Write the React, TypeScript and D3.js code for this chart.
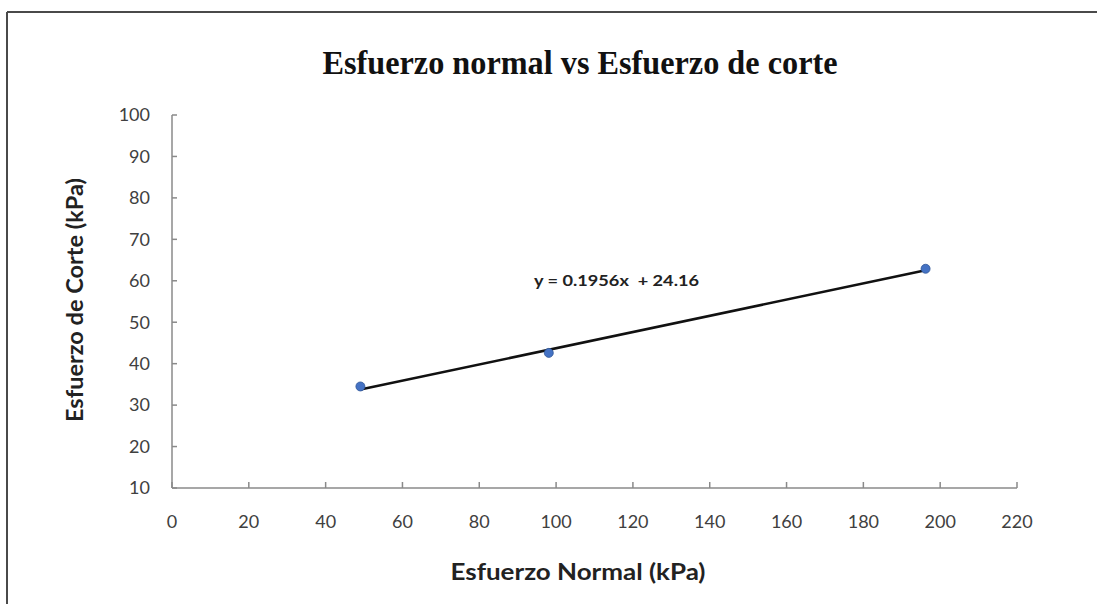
import React from "react";
import * as d3 from "d3";

const xValues = [49.05, 98.1, 196.2];
const yValues = [34.5, 42.6, 62.9];
const xTicks = [0, 20, 40, 60, 80, 100, 120, 140, 160, 180, 200, 220];
const yTicks = [10, 20, 30, 40, 50, 60, 70, 80, 90, 100];
const slope = 0.1956;
const intercept = 24.16;
const titleText = "Esfuerzo normal vs Esfuerzo de corte";
const xLabel = "Esfuerzo Normal (kPa)";
const yLabel = "Esfuerzo de Corte (kPa)";
const eqLabel = "y = 0.1956x  + 24.16";

const W = 1097;
const H = 604;
const left = 172;
const right = 1017;
const top = 115;
const bottom = 488;

export default function App() {
  const x = d3.scaleLinear().domain([0, 220]).range([left, right]);
  const y = d3.scaleLinear().domain([10, 100]).range([bottom, top]);
  const xMin = d3.min(xValues) as number;
  const xMax = d3.max(xValues) as number;
  const trend = d3.line<number>()
    .x((d) => x(d))
    .y((d) => y(slope * d + intercept))([xMin, xMax]);
  const font = "Lato, 'Open Sans', sans-serif";
  const axisColor = "#8a8a8a";
  return (
    <svg
      width={W}
      height={H}
      style={{ position: "absolute", left: 0, top: 0, background: "#fff" }}
    >
      <rect x={0} y={0} width={W} height={H} fill="#fff" />
      {/* chart border */}
      <line x1={7} y1={12} x2={W} y2={12} stroke="#4a4a4a" strokeWidth={2} />
      <line x1={7} y1={12} x2={7} y2={H} stroke="#4a4a4a" strokeWidth={2} />

      <text
        x={580}
        y={74}
        textAnchor="middle"
        fontFamily="'Liberation Serif', 'Times New Roman', serif"
        fontWeight="bold"
        fontSize={34}
        textLength={515}
        lengthAdjust="spacingAndGlyphs"
        fill="#111"
      >
        {titleText}
      </text>

      {/* axes */}
      <line x1={left} y1={top} x2={left} y2={bottom} stroke={axisColor} strokeWidth={1.5} />
      <line x1={left} y1={bottom} x2={right} y2={bottom} stroke={axisColor} strokeWidth={1.5} />
      {yTicks.map((t) => (
        <g key={"y" + t}>
          <line x1={left} x2={left + 5} y1={y(t)} y2={y(t)} stroke={axisColor} strokeWidth={1.5} />
          <text
            x={150}
            y={y(t)}
            dy="0.35em"
            textAnchor="end"
            fontFamily={font}
            fontSize={18}
            fill="#404040"
          >
            {t}
          </text>
        </g>
      ))}
      {xTicks.map((t) => (
        <g key={"x" + t}>
          <line x1={x(t)} x2={x(t)} y1={bottom} y2={bottom - 6} stroke={axisColor} strokeWidth={1.5} />
          <text
            x={x(t)}
            y={522}
            dy="0.35em"
            textAnchor="middle"
            fontFamily={font}
            fontSize={18}
            fill="#404040"
          >
            {t}
          </text>
        </g>
      ))}

      {/* trendline */}
      <path d={trend || ""} fill="none" stroke="#111" strokeWidth={2.5} />

      {/* points */}
      {xValues.map((v, i) => (
        <circle key={i} cx={x(v)} cy={y(yValues[i])} r={4.5} fill="#4472c4" stroke="#2f5597" strokeWidth={0.8} />
      ))}

      <text
        x={534}
        y={281}
        dy="0.35em"
        fontFamily={font}
        fontWeight="bold"
        fontSize={15}
        fill="#222"
        textLength={165}
        lengthAdjust="spacingAndGlyphs"
        style={{ whiteSpace: "pre" }}
      >
        {eqLabel}
      </text>

      <text
        x={578}
        y={572}
        dy="0.35em"
        textAnchor="middle"
        fontFamily={font}
        fontWeight="bold"
        fontSize={23}
        textLength={255}
        lengthAdjust="spacingAndGlyphs"
        fill="#222"
      >
        {xLabel}
      </text>
      <text
        transform={`translate(75,300) rotate(-90)`}
        dy="0.35em"
        textAnchor="middle"
        fontFamily={font}
        fontWeight="bold"
        fontSize={22}
        textLength={244}
        lengthAdjust="spacingAndGlyphs"
        fill="#222"
      >
        {yLabel}
      </text>
    </svg>
  );
}
